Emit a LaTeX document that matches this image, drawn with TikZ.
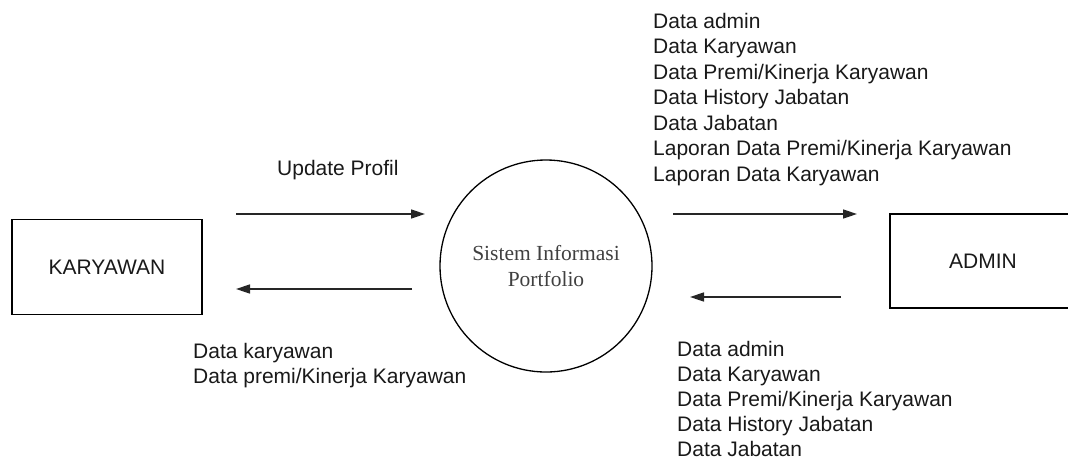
\documentclass[tikz,border=0pt]{standalone}
\usepackage{fontspec}
\setmainfont{Liberation Sans}
\newfontfamily\procfont{Liberation Serif}
\usetikzlibrary{arrows.meta}

\begin{document}
\begin{tikzpicture}[x=1pt, y=-1pt, >={Triangle[length=14pt,width=9pt]}]

% ---------- styles ----------
\tikzset{
  dfdEntity/.style ={draw, line width=1.4pt, minimum width=190pt, minimum height=95pt,
                     font=\fontsize{21}{25}\selectfont, text=black!90},
  dfdProcess/.style={draw, circle, line width=1.3pt, minimum size=212pt, inner sep=0pt,
                     align=center, font=\procfont\fontsize{21.5}{26}\selectfont, text=black!75},
  dfdFlow/.style   ={->, line width=1.6pt, draw=black!85},
  dfdLabel/.style  ={anchor=base west, inner sep=0pt,
                     font=\fontsize{21}{25}\selectfont, text=black!90}
}

% page frame (pixel-like units, y pointing down)
\useasboundingbox (0,0) rectangle (1068,459);
\clip (0,0) rectangle (1068,459);

% ---------- entities and process ----------
\node[dfdEntity] (karyawan) at (107,267) {KARYAWAN};
\node[dfdProcess] (sip) at (546,266) {Sistem Informasi\\Portfolio};
\node[dfdEntity, minimum width=186pt, minimum height=94pt] (admin) at (983,261) {ADMIN};

% ---------- flow end points ----------
\coordinate (kToS)  at (236,214);
\coordinate (sFromK) at (425,214);
\coordinate (sToK)  at (412,289);
\coordinate (kFromS) at (236,289);
\coordinate (sToA)  at (673,214);
\coordinate (aFromS) at (857,214);
\coordinate (aToS)  at (841,297);
\coordinate (sFromA) at (690,297);

% ---------- data flows ----------
\draw[dfdFlow] (kToS) -- (sFromK);
\draw[dfdFlow] (sToK) -- (kFromS);
\draw[dfdFlow] (sToA) -- (aFromS);
\draw[dfdFlow] (aToS) -- (sFromA);

% ---------- flow labels ----------
\node[dfdLabel] (lblUpdate) at (277,175) {Update Profil};

\foreach \txt [count=\i from 0] in {Data karyawan, Data premi/Kinerja Karyawan}
  \node[dfdLabel] (lblKar\i) at (193,358+25.5*\i) {\txt};

\foreach \txt [count=\i from 0] in {Data admin, Data Karyawan,
    Data Premi/Kinerja Karyawan, Data History Jabatan, Data Jabatan,
    Laporan Data Premi/Kinerja Karyawan, Laporan Data Karyawan}
  \node[dfdLabel] (lblOut\i) at (653,28+25.5*\i) {\txt};

\foreach \txt [count=\i from 0] in {Data admin, Data Karyawan,
    Data Premi/Kinerja Karyawan, Data History Jabatan, Data Jabatan}
  \node[dfdLabel] (lblIn\i) at (677,356+25.2*\i) {\txt};

\end{tikzpicture}
\end{document}
